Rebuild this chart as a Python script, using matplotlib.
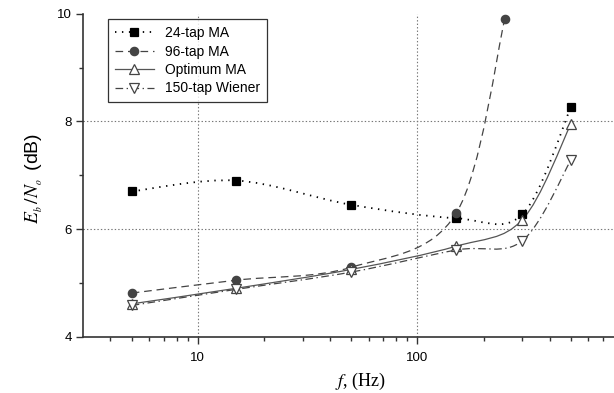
import numpy as np
import matplotlib
matplotlib.use("Agg")
import matplotlib.pyplot as plt
from matplotlib.path import Path
from matplotlib.patches import PathPatch
from matplotlib.lines import Line2D
from matplotlib.ticker import FixedLocator, NullFormatter

plt.rcParams["font.family"] = ["Liberation Sans", "DejaVu Sans"]
plt.rcParams["mathtext.fontset"] = "stix"
plt.rcParams["lines.scale_dashes"] = False

# values (f in Hz, Eb/No in dB)
f_24 = [5, 15, 50, 150, 300, 500]
eb_24 = [6.70, 6.90, 6.45, 6.20, 6.27, 8.26]

f_96 = [5, 15, 50, 150, 250]
eb_96 = [4.81, 5.05, 5.29, 6.29, 9.90]

f_opt = [5, 15, 50, 150, 300, 500]
eb_opt = [4.61, 4.90, 5.25, 5.68, 6.17, 7.95]

f_wien = [5, 15, 50, 150, 300, 500]
eb_wien = [4.58, 4.88, 5.20, 5.61, 5.78, 7.28]

labels = ["24-tap MA", "96-tap MA", "Optimum MA", "150-tap Wiener"]


def smooth_path(xs, ys):
    # Catmull-Rom through the points, drawn as cubic Bezier in log-x space
    u = np.log10(np.asarray(xs, float))
    v = np.asarray(ys, float)
    n = len(u)
    verts = [(xs[0], ys[0])]
    codes = [Path.MOVETO]
    for i in range(n - 1):
        i0 = max(i - 1, 0)
        i3 = min(i + 2, n - 1)
        c1u = u[i] + (u[i + 1] - u[i0]) / 6
        c1v = v[i] + (v[i + 1] - v[i0]) / 6
        c2u = u[i + 1] - (u[i3] - u[i]) / 6
        c2v = v[i + 1] - (v[i3] - v[i]) / 6
        verts += [(10 ** c1u, c1v), (10 ** c2u, c2v), (xs[i + 1], ys[i + 1])]
        codes += [Path.CURVE4] * 3
    return Path(verts, codes)


fig = plt.figure(figsize=(6.14, 3.93), dpi=100)
ax = fig.add_axes([0.1352, 0.1433, 0.8676, 0.8219])
ax.set_xscale("log")
ax.set_xlim(3, 800)
ax.set_ylim(4, 10)

styles = [
    dict(ls=(0, (1, 4)), lc="black", lw=1.3, marker="s", mfc="black", mec="black", ms=5.5),
    dict(ls=(0, (5.5, 3.5)), lc="#444444", lw=0.9, marker="o", mfc="#444444", mec="#444444", ms=6),
    dict(ls="-", lc="#555555", lw=0.9, marker="^", mfc="white", mec="#444444", ms=7),
    dict(ls=(0, (5.5, 2.5, 1, 2.5)), lc="#444444", lw=0.9, marker="v", mfc="white", mec="#444444", ms=7),
]
series = [(f_24, eb_24), (f_96, eb_96), (f_opt, eb_opt), (f_wien, eb_wien)]

handles = []
for (xs, ys), st, lab in zip(series, styles, labels):
    ax.add_patch(PathPatch(smooth_path(xs, ys), fill=False, edgecolor=st["lc"],
                           lw=st["lw"], linestyle=st["ls"], zorder=2))
    ax.plot(xs, ys, ls="none", marker=st["marker"], mfc=st["mfc"], mec=st["mec"],
            ms=st["ms"], mew=0.9, zorder=3)
    handles.append(Line2D([], [], color=st["lc"], ls=st["ls"], lw=st["lw"],
                          marker=st["marker"], mfc=st["mfc"], mec=st["mec"],
                          ms=st["ms"], mew=0.9))

# grid only at the major lines inside the plot
for gx in [10, 100]:
    ax.axvline(gx, color="#777777", lw=0.8, ls=(0, (1, 1.5)), zorder=1)
for gy in [6, 8]:
    ax.axhline(gy, color="#777777", lw=0.8, ls=(0, (1, 1.5)), zorder=1)

for s in ["top", "right"]:
    ax.spines[s].set_visible(False)
for s in ["left", "bottom"]:
    ax.spines[s].set_color("#333333")
    ax.spines[s].set_linewidth(1.2)

ax.set_yticks([4, 6, 8, 10])
ax.yaxis.set_minor_locator(FixedLocator([5, 7, 9]))
ax.set_xticks([10, 100])
ax.set_xticklabels(["10", "100"])
ax.xaxis.set_minor_locator(FixedLocator([4, 5, 6, 7, 8, 9, 20, 30, 40, 50, 60, 70, 80, 90,
                                         200, 300, 400, 500, 600, 700]))
ax.xaxis.set_minor_formatter(NullFormatter())
ax.tick_params(which="major", direction="out", length=5, width=1, color="#333333",
               labelsize=9.5, pad=3)
ax.tick_params(which="minor", direction="out", length=3, width=1, color="#333333")
ax.tick_params(axis="x", which="major", pad=6)

ax.set_ylabel(r"$E_{_b}\,/N_{_o}\,$ (dB)", fontsize=14)
ax.yaxis.set_label_coords(-0.072, 0.49)
ax.set_xlabel(r"$f$, (Hz)", fontsize=13, family="Liberation Serif")
ax.xaxis.set_label_coords(0.52, -0.106)

leg = ax.legend(handles, labels, loc="upper left", bbox_to_anchor=(0.047, 0.983),
                fontsize=10, frameon=True, fancybox=False, handlelength=2.8,
                labelspacing=0.32, borderpad=0.5, handletextpad=0.8, borderaxespad=0)
leg.get_frame().set_edgecolor("black")
leg.get_frame().set_linewidth(0.9)

fig.savefig("out.png", dpi=100)
